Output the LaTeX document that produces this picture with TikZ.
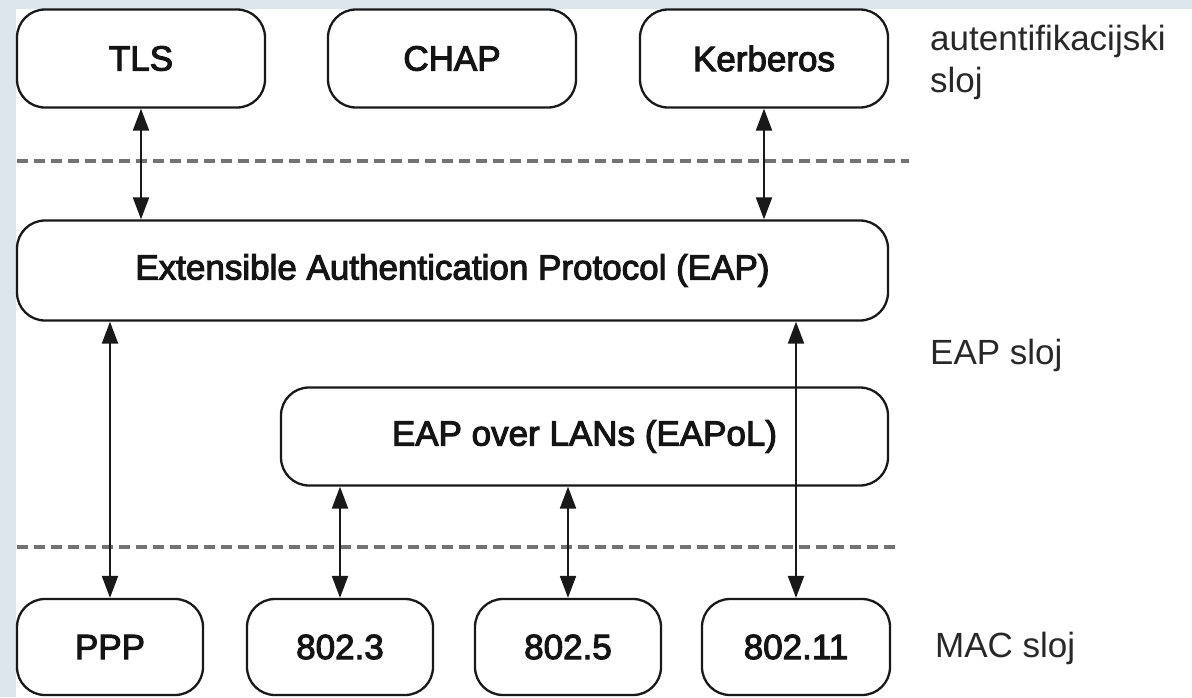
\documentclass[tikz,border=0pt]{standalone}
\usepackage{fontspec}
\setmainfont{Liberation Sans}
\newfontfamily\boxfont{Liberation Sans}[FakeBold=3]
\usetikzlibrary{arrows.meta}

\definecolor{framebg}{RGB}{221,230,237}
\definecolor{boxline}{RGB}{25,25,25}
\definecolor{dashgray}{RGB}{115,115,115}
\definecolor{labelgray}{RGB}{40,40,40}

\tikzset{
  layerbox/.style={draw=boxline, line width=2.3pt, fill=white, rounded corners=28pt,
    minimum height=98pt, inner sep=0pt,
    font=\boxfont\fontsize{35}{40}\selectfont, text=black!92},
  layerlabel/.style={anchor=west, align=left, inner sep=0pt, text=labelgray,
    font=\fontsize{35}{42}\selectfont},
  link/.style={draw=black!90, line width=2.1pt,
    {Triangle[length=22pt,width=16pt]}-{Triangle[length=22pt,width=16pt]}},
  divider/.style={draw=dashgray, line width=3.2pt, dash pattern=on 11pt off 6pt}
}

\begin{document}
\begin{tikzpicture}[x=1pt, y=-1pt]
  \useasboundingbox (0,0) rectangle (1192,697);
  \fill[framebg] (0,0) rectangle (1192,697);
  \fill[white] (16,9) rectangle (1192,697);

  % layer dividers
  \draw[divider] (17,161) -- (909,161);
  \draw[divider] (17,547) -- (898,547);

  % authentication methods
  \node[layerbox, minimum width=248pt] (tls)  at (141,58.5) {TLS};
  \node[layerbox, minimum width=248pt] (chap) at (452,58.5) {CHAP};
  \node[layerbox, minimum width=248pt] (krb)  at (764,58.5) {Kerberos};

  % EAP layer
  \node[layerbox, minimum width=871pt, minimum height=100pt] (eap) at (452.5,270.5)
    {Extensible Authentication Protocol (EAP)};
  \node[layerbox, minimum width=607pt] (eapol) at (584.5,436.5)
    {EAP over LANs (EAPoL)};

  % MAC layer
  \node[layerbox, minimum width=186pt, minimum height=96pt] (ppp)  at (110,647) {PPP};
  \node[layerbox, minimum width=186pt, minimum height=96pt] (e3)   at (340,647) {802.3};
  \node[layerbox, minimum width=186pt, minimum height=96pt] (e5)   at (568,647) {802.5};
  \node[layerbox, minimum width=188pt, minimum height=96pt] (e11)  at (796,647) {802.11};

  % layer names
  \node[layerlabel] (lauth) at (930,62) {autentifikacijski\\sloj};
  \node[layerlabel] (leap)  at (930,355) {EAP sloj};
  \node[layerlabel] (lmac)  at (935,648) {MAC sloj};

  % connections between layers
  \draw[link] (tls.south) -- (tls.south |- eap.north);
  \draw[link] (krb.south) -- (krb.south |- eap.north);
  \draw[link] (eap.south -| ppp.north) -- (ppp.north);
  \draw[link] (eap.south -| e11.north) -- (e11.north);
  \draw[link] (eapol.south -| e3.north) -- (e3.north);
  \draw[link] (eapol.south -| e5.north) -- (e5.north);
\end{tikzpicture}
\end{document}
